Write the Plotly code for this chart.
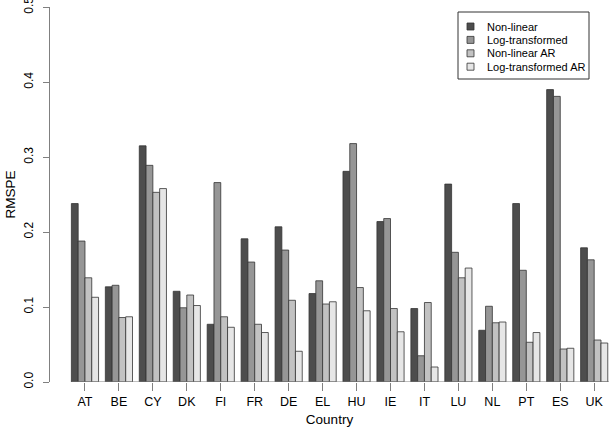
import plotly.graph_objects as go

countries = ["AT", "BE", "CY", "DK", "FI", "FR", "DE", "EL", "HU", "IE", "IT", "LU", "NL", "PT", "ES", "UK"]
non_linear = [0.238, 0.127, 0.315, 0.121, 0.077, 0.191, 0.207, 0.118, 0.281, 0.214, 0.098, 0.264, 0.069, 0.238, 0.390, 0.179]
log_transformed = [0.188, 0.129, 0.289, 0.099, 0.266, 0.160, 0.176, 0.135, 0.318, 0.218, 0.035, 0.173, 0.101, 0.149, 0.381, 0.163]
non_linear_ar = [0.139, 0.086, 0.253, 0.116, 0.087, 0.077, 0.109, 0.104, 0.126, 0.098, 0.106, 0.139, 0.079, 0.053, 0.044, 0.056]
log_transformed_ar = [0.113, 0.087, 0.258, 0.102, 0.073, 0.066, 0.041, 0.107, 0.095, 0.067, 0.020, 0.152, 0.080, 0.066, 0.045, 0.052]

series_names = ["Non-linear", "Log-transformed", "Non-linear AR", "Log-transformed AR"]
series_values = [non_linear, log_transformed, non_linear_ar, log_transformed_ar]
series_colors = ["#4D4D4D", "#969696", "#C2C2C2", "#E6E6E6"]

y_ticks = [0, 0.1, 0.2, 0.3, 0.4, 0.5]
y_tick_labels = ["0.0", "0.1", "0.2", "0.3", "0.4", "0.5"]

W, H = 609, 431
ML, MR, MT, MB = 50, 0, 7, 49
PW, PH = W - ML - MR, H - MT - MB


def px_x(p):
    return (p - ML) / PW


def px_y(p):
    return (H - MB - p) / PH


fig = go.Figure()
for name, vals, col in zip(series_names, series_values, series_colors):
    fig.add_trace(go.Bar(
        x=countries, y=vals, name=name, showlegend=False,
        marker=dict(color=col, line=dict(color="#333333", width=0.8)),
    ))

axis_col = "#808080"
fig.update_layout(
    width=W, height=H,
    margin=dict(l=ML, r=MR, t=MT, b=MB),
    paper_bgcolor="white", plot_bgcolor="white",
    barmode="group", bargap=0.2, bargroupgap=0,
    font=dict(family="Liberation Sans, Arial, sans-serif", size=13, color="black"),
    xaxis=dict(
        type="category", range=[-1.03, 15.436], automargin=False,
        showline=False, showgrid=False, zeroline=False,
        ticks="outside", ticklen=8, tickcolor=axis_col, tickwidth=1,
        title=dict(text="Country", standoff=6, font=dict(size=13.5)),
        tickfont=dict(size=12.5),
    ),
    yaxis=dict(
        range=[0, 0.5002], tickvals=y_ticks, ticktext=y_tick_labels, automargin=False,
        showline=True, linecolor=axis_col, linewidth=1,
        showgrid=False, zeroline=False,
        ticks="outside", ticklen=6, tickcolor=axis_col, tickwidth=1,
        tickangle=-90, ticklabelstandoff=5, ticklabeloverflow="allow",
        title=dict(text="RMSPE", standoff=3, font=dict(size=13.5)),
        tickfont=dict(size=12),
    ),
    showlegend=False,
)
fig.add_shape(type="line", xref="x", yref="y", x0=-0.4, x1=15.5, y0=0, y1=0,
              line=dict(color=axis_col, width=1))

# legend box (drawn as shapes + text annotations)
fig.add_shape(type="rect", xref="paper", yref="paper",
              x0=px_x(458), x1=px_x(589), y0=px_y(12), y1=px_y(79),
              line=dict(color="#333333", width=1), fillcolor="white", layer="above")
for i, (name, col) in enumerate(zip(series_names, series_colors)):
    cy = 26.5 + i * 13.4
    fig.add_shape(type="rect", xref="paper", yref="paper",
                  x0=px_x(467), x1=px_x(474), y0=px_y(cy - 3.5), y1=px_y(cy + 3.5),
                  line=dict(color="#333333", width=0.8), fillcolor=col, layer="above")
    fig.add_annotation(xref="paper", yref="paper", x=px_x(485), y=px_y(cy),
                       xanchor="left", yanchor="middle", text=name, showarrow=False,
                       font=dict(size=11, color="black"))

fig.write_html("out.html", config={"displayModeBar": False},
               post_script="document.body.style.margin='0';document.body.style.overflow='hidden';")
